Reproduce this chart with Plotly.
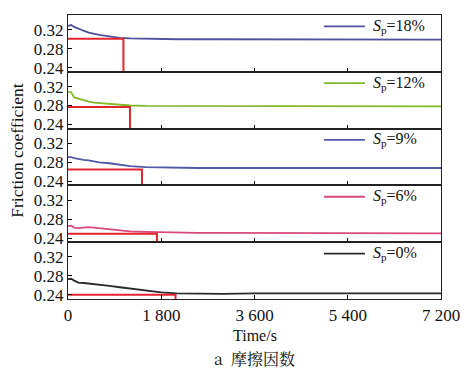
import plotly.graph_objects as go
from plotly.subplots import make_subplots

# ---------------- data ----------------
time_s = [0, 60, 120, 200, 300, 400, 500, 600, 800, 1000, 1200, 1500, 1800,
          2100, 2500, 3000, 3600, 4200, 4800, 5400, 6000, 6600, 7200]

labels = ["18%", "12%", "9%", "6%", "0%"]

cof_18 = [0.328, 0.330, 0.326, 0.322, 0.318, 0.314, 0.311, 0.309, 0.306, 0.303, 0.302, 0.301, 0.301,
          0.300, 0.300, 0.300, 0.300, 0.300, 0.299, 0.300, 0.299, 0.299, 0.299]
cof_12 = [0.309, 0.308, 0.297, 0.294, 0.291, 0.288, 0.286, 0.285, 0.283, 0.281, 0.280, 0.279, 0.279,
          0.278, 0.278, 0.278, 0.278, 0.278, 0.278, 0.278, 0.278, 0.278, 0.278]
cof_9 = [0.291, 0.291, 0.289, 0.287, 0.285, 0.284, 0.282, 0.280, 0.278, 0.275, 0.272, 0.270, 0.269,
         0.268, 0.268, 0.268, 0.268, 0.268, 0.269, 0.269, 0.268, 0.268, 0.268]
cof_6 = [0.265, 0.266, 0.262, 0.261, 0.262, 0.263, 0.262, 0.261, 0.258, 0.256, 0.254, 0.253, 0.252,
         0.252, 0.251, 0.251, 0.251, 0.251, 0.251, 0.251, 0.251, 0.250, 0.250]
cof_0 = [0.273, 0.274, 0.270, 0.266, 0.265, 0.264, 0.263, 0.262, 0.259, 0.256, 0.253, 0.249, 0.245,
         0.243, 0.242, 0.242, 0.243, 0.243, 0.243, 0.243, 0.243, 0.243, 0.243]
series = [cof_18, cof_12, cof_9, cof_6, cof_0]

# red markers: steady-state COF and running-in end time
steady_cof = [0.301, 0.277, 0.265, 0.249, 0.240]
runin_end = [1070, 1196, 1428, 1717, 2075]

x_tickvals = [0, 1800, 3600, 5400, 7200]
x_ticktext = ["0", "1 800", "3 600", "5 400", "7 200"]
y_tickvals = [0.24, 0.28, 0.32]
y_ticktext = ["0.24", "0.28", "0.32"]
y_range = [0.2312, 0.3512]

colors = ["#50509e", "#80bb2a", "#5058a8", "#d9487c", "#2a2a2a"]
red = "#e3262e"

FONT = "Liberation Serif"

fig = make_subplots(rows=5, cols=1, shared_xaxes=True, vertical_spacing=0)

shapes = []
annotations = []
for i in range(5):
    r = i + 1
    fig.add_trace(go.Scatter(
        x=time_s, y=series[i], mode="lines",
        line=dict(color=colors[i], width=1.8),
        name="Sp=" + labels[i], showlegend=False), row=r, col=1)
    fig.add_trace(go.Scatter(
        x=[0, runin_end[i], runin_end[i]],
        y=[steady_cof[i], steady_cof[i], y_range[0]],
        mode="lines", line=dict(color=red, width=2),
        showlegend=False, hoverinfo="skip"), row=r, col=1)

    fig.update_yaxes(range=y_range, tickvals=y_tickvals, ticktext=y_ticktext,
                     ticks="inside", ticklen=4, tickwidth=1.2, tickcolor="black",
                     showline=True, linecolor="#222", linewidth=1.2, mirror=True,
                     showgrid=False, zeroline=False,
                     tickfont=dict(family=FONT, size=17, color="#111"),
                     row=r, col=1)
    fig.update_xaxes(range=[0, 7200], tickvals=x_tickvals, ticktext=x_ticktext,
                     ticks="inside", ticklen=4, tickwidth=1.2, tickcolor="black",
                     showline=True, linecolor="#222", linewidth=1.2, mirror=True,
                     showgrid=False, zeroline=False,
                     showticklabels=(r == 5), ticklabeloverflow="allow",
                     tickfont=dict(family=FONT, size=17, color="#111"),
                     row=r, col=1)

    xs = "x" if r == 1 else f"x{r}"
    ys = "y" if r == 1 else f"y{r}"
    # legend sample line + label
    shapes.append(dict(type="line", xref=f"{xs} domain", yref=f"{ys} domain",
                       x0=0.686, x1=0.796, y0=0.80, y1=0.80,
                       line=dict(color=colors[i], width=1.8)))
    annotations.append(dict(text=f"<i>S</i><sub>p</sub>={labels[i]}",
                            xref=f"{xs} domain", yref=f"{ys} domain",
                            x=0.812, y=0.80, xanchor="left", yanchor="middle",
                            showarrow=False,
                            font=dict(family=FONT, size=16, color="#111")))

annotations += [
    dict(text="Friction coefficient", xref="paper", yref="paper",
         x=-0.136, y=0.523, xanchor="center", yanchor="middle",
         textangle=-90, showarrow=False,
         font=dict(family=FONT, size=17.5, color="#111")),
    dict(text="Time/s", xref="paper", yref="paper",
         x=0.5, y=-0.13, xanchor="center", yanchor="middle",
         showarrow=False, font=dict(family=FONT, size=16, color="#111")),
    dict(text="a  摩擦因数", xref="paper", yref="paper",
         x=0.5, y=-0.21, xanchor="center", yanchor="middle",
         showarrow=False,
         font=dict(family="Noto Serif CJK SC, Noto Sans CJK SC", size=16, color="#111")),
]

fig.update_layout(
    width=458, height=363,
    margin=dict(l=60, r=16, t=6, b=72),
    paper_bgcolor="white", plot_bgcolor="white",
    font=dict(family=FONT, size=17, color="#111"),
    shapes=shapes, annotations=annotations,
)

fig.write_html("out.html")
